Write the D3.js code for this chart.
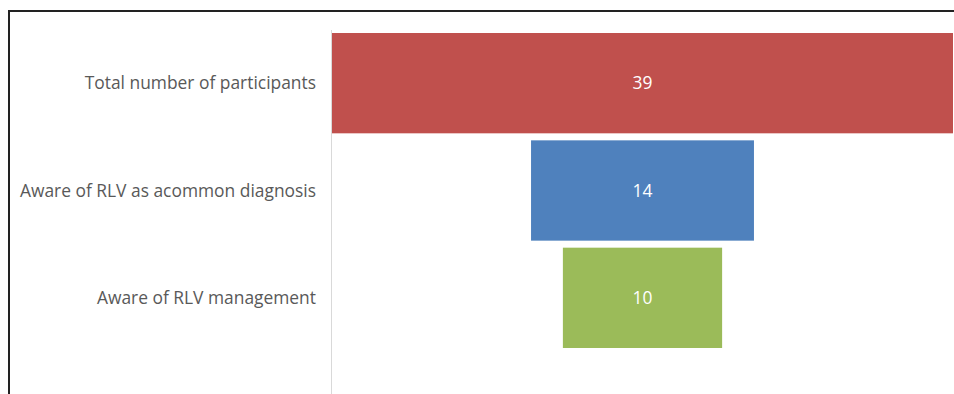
<!DOCTYPE html>
<html><head><meta charset="utf-8">
<script src="https://cdn.jsdelivr.net/npm/d3@7"></script>
<style>html,body{margin:0;padding:0;background:#fff;}svg{display:block;}</style>
</head><body>
<svg id="c" width="954" height="394"></svg>
<script>
const categories = ["Total number of participants", "Aware of RLV as acommon diagnosis", "Aware of RLV management"];
const values = [39, 14, 10];
const colors = ["#C0504D", "#4F81BD", "#9BBB59"];

const svg = d3.select("#c");
const W = 954, H = 394;
const font = "'Open Sans', sans-serif";

// frame
svg.append("line").attr("x1", 9).attr("x2", W).attr("y1", 11).attr("y2", 11).attr("stroke", "#222").attr("stroke-width", 2);
svg.append("line").attr("x1", 9).attr("x2", 9).attr("y1", 10).attr("y2", H).attr("stroke", "#222").attr("stroke-width", 2);

const y = d3.scaleBand().domain(categories).range([29.5, 351.5]).paddingInner(0.0654).paddingOuter(0.0327);
const center = 642.5;
const x = d3.scaleLinear().domain([0, d3.max(values)]).range([0, 621]);

// axis line
svg.append("line").attr("x1", 331.5).attr("x2", 331.5).attr("y1", 30).attr("y2", H).attr("stroke", "#d9d9d9").attr("stroke-width", 1);

svg.selectAll("rect.bar").data(values).join("rect").attr("class", "bar")
  .attr("x", d => center - x(d) / 2)
  .attr("width", d => x(d))
  .attr("y", (d, i) => y(categories[i]))
  .attr("height", y.bandwidth())
  .attr("fill", (d, i) => colors[i]);

svg.selectAll("text.val").data(values).join("text").attr("class", "val")
  .attr("x", center)
  .attr("y", (d, i) => y(categories[i]) + y.bandwidth() / 2)
  .attr("dy", "0.35em")
  .attr("text-anchor", "middle")
  .attr("fill", "#fff")
  .style("font-family", font).style("font-size", "17.4px")
  .text(d => d);

const yAxis = d3.axisLeft(y).tickSize(0).tickPadding(0);
const g = svg.append("g").attr("transform", "translate(316,0)").call(yAxis);
g.select(".domain").remove();
g.selectAll("text").attr("fill", "#595959").style("font-family", font).style("font-size", "17.4px").attr("dy", "0.35em");
</script>
</body></html>
